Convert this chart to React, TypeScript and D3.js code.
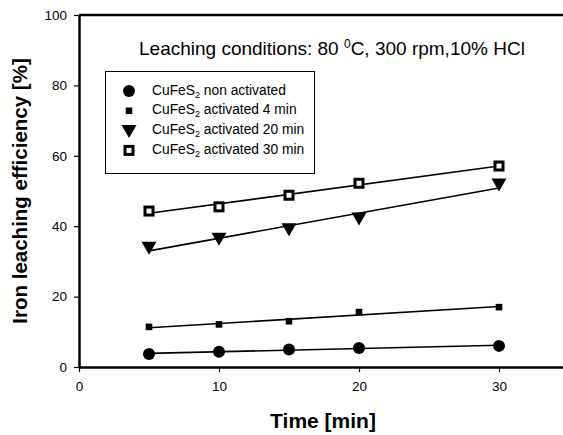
import { useEffect, useRef } from 'react';
import * as d3 from 'd3';

const times = [5, 10, 15, 20, 30];
const nonActivated = [3.7, 4.3, 5.0, 5.4, 6.0];
const activated4 = [11.4, 12.1, 13.0, 15.6, 17.0];
const activated20 = [34.0, 36.6, 39.3, 42.3, 52.0];
const activated30 = [44.3, 45.5, 48.8, 52.2, 57.1];
const seriesNames = ['non activated', 'activated 4 min', 'activated 20 min', 'activated 30 min'];
const xTicks = [0, 10, 20, 30];
const yTicks = [0, 20, 40, 60, 80, 100];

const W = 563;
const H = 435;

// least squares line through one series
function fit(xs: number[], ys: number[]) {
  const mx = d3.mean(xs)!;
  const my = d3.mean(ys)!;
  const sxy = d3.sum(xs, (x, i) => (x - mx) * (ys[i] - my));
  const sxx = d3.sum(xs, x => (x - mx) * (x - mx));
  const b = sxy / sxx;
  return (x: number) => my + b * (x - mx);
}

export default function App() {
  const svgRef = useRef<SVGSVGElement>(null);

  useEffect(() => {
    const svg = d3.select(svgRef.current);
    svg.selectAll('*').remove();
    const font = 'Liberation Sans, Arial, sans-serif';

    const x = d3.scaleLinear().domain([0, 35]).range([79, 569]);
    const y = d3.scaleLinear().domain([0, 100]).range([367, 15]);

    // top frame
    svg.append('line')
      .attr('x1', x(0)).attr('y1', y(100)).attr('x2', W).attr('y2', y(100))
      .attr('stroke', '#000').attr('stroke-width', 2.5);

    // axes
    const xAxis = svg.append('g')
      .attr('transform', `translate(0,${y(0)})`)
      .call(d3.axisBottom(x).tickValues(xTicks).tickSize(5).tickSizeOuter(0).tickFormat(d3.format('d')));
    xAxis.select('.domain').attr('stroke-width', 2.5);
    xAxis.selectAll('line').attr('stroke-width', 1.2);
    xAxis.selectAll('text').attr('font-family', font).attr('font-size', 13.5).attr('y', 14);

    const yAxis = svg.append('g')
      .attr('transform', `translate(${x(0)},0)`)
      .call(d3.axisLeft(y).tickValues(yTicks).tickSize(5).tickSizeOuter(0));
    yAxis.select('.domain').attr('stroke-width', 2.5);
    yAxis.selectAll('line').attr('stroke-width', 1.2);
    yAxis.selectAll('text').attr('font-family', font).attr('font-size', 13.5).attr('x', -12);

    const all = [nonActivated, activated4, activated20, activated30];

    // regression lines
    all.forEach(vals => {
      const f = fit(times, vals);
      svg.append('line')
        .attr('x1', x(5)).attr('y1', y(f(5)))
        .attr('x2', x(30)).attr('y2', y(f(30)))
        .attr('stroke', '#000').attr('stroke-width', 1.6);
    });

    const marker = (g: d3.Selection<SVGGElement, unknown, null, undefined>, k: number) => {
      if (k === 0) g.append('circle').attr('r', 6).attr('fill', '#000');
      else if (k === 1) g.append('rect').attr('x', -3.3).attr('y', -3.3).attr('width', 6.6).attr('height', 6.6).attr('fill', '#000');
      else if (k === 2) g.append('path').attr('d', 'M-7.5,-5.5L7.5,-5.5L0,7.5Z').attr('fill', '#000');
      else g.append('rect').attr('x', -4).attr('y', -4).attr('width', 8).attr('height', 8)
        .attr('fill', '#fff').attr('stroke', '#000').attr('stroke-width', 3);
    };

    all.forEach((vals, k) => {
      vals.forEach((v, i) => {
        const g = svg.append('g').attr('transform', `translate(${x(times[i])},${y(v)})`);
        marker(g, k);
      });
    });

    // legend
    svg.append('rect')
      .attr('x', 105.5).attr('y', 71.5).attr('width', 209).attr('height', 102)
      .attr('fill', '#fff').attr('stroke', '#000').attr('stroke-width', 1);
    seriesNames.forEach((name, k) => {
      const cy = 91 + k * 19.8;
      marker(svg.append('g').attr('transform', `translate(129,${cy})`), k);
      const t = svg.append('text').attr('x', 152).attr('y', cy + 3.5)
        .attr('font-family', font).attr('font-size', 13.8);
      t.append('tspan').text('CuFeS');
      t.append('tspan').attr('font-size', 9).attr('dy', 3).text('2');
      t.append('tspan').attr('dy', -3).text(' ' + name);
    });

    // title
    const title = svg.append('text').attr('x', 139).attr('y', 55)
      .attr('font-family', font).attr('font-size', 19);
    title.append('tspan').text('Leaching conditions: 80 ');
    title.append('tspan').attr('font-size', 12).attr('dy', -7).text('0');
    title.append('tspan').attr('dy', 7).text('C, 300 rpm,10% HCl');

    // axis labels
    svg.append('text')
      .attr('x', 323).attr('y', 428)
      .attr('text-anchor', 'middle')
      .attr('font-family', font).attr('font-size', 21).attr('font-weight', 'bold')
      .text('Time [min]');
    svg.append('text')
      .attr('transform', `translate(27,191) rotate(-90)`)
      .attr('text-anchor', 'middle')
      .attr('font-family', font).attr('font-size', 20.5).attr('font-weight', 'bold')
      .text('Iron leaching efficiency [%]');
  }, []);

  return (
    <svg ref={svgRef} width={W} height={H}
      style={{ position: 'absolute', left: 0, top: 0, background: '#fff' }} />
  );
}
